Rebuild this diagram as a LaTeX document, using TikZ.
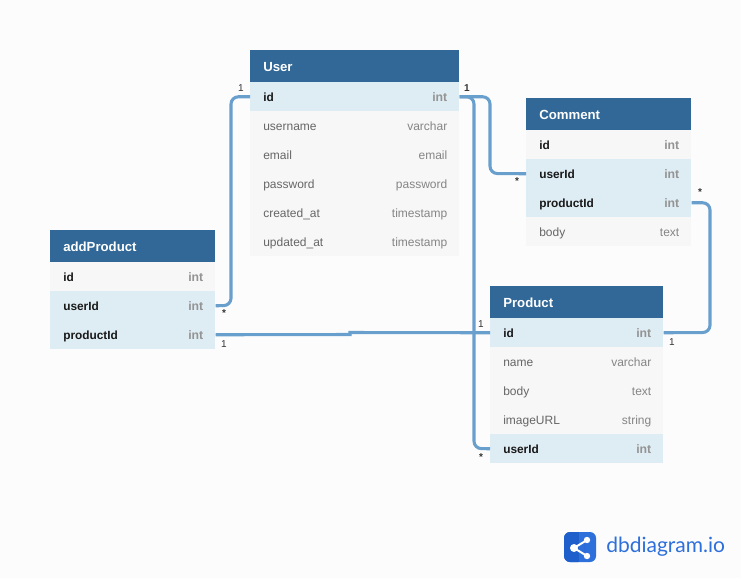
\documentclass[tikz,border=0pt]{standalone}
\usepackage{fontspec}
\setmainfont{Liberation Sans}
\newfontfamily\logofont{Lato}
\usetikzlibrary{positioning}
\definecolor{pagebg}{HTML}{FCFCFC}
\definecolor{headblue}{HTML}{316897}
\definecolor{keyblue}{HTML}{DEECF4}
\definecolor{rowgray}{HTML}{F7F7F7}
\definecolor{linkblue}{HTML}{689FCD}
\definecolor{logoblue}{HTML}{2D6FDB}
\definecolor{logodark}{HTML}{1F5FCB}
\tikzset{
  head/.style={anchor=north west, fill=headblue, minimum height=24pt, inner sep=0pt},
  headtext/.style={anchor=west, inner sep=0pt, text height=7.2pt, text depth=0pt, text=white, font=\fontsize{9.9}{12}\selectfont\bfseries},
  rowbox/.style={anchor=north west, minimum height=21.75pt, inner sep=0pt},
  plainrow/.style={rowbox, fill=rowgray},
  idrow/.style={rowbox, fill=rowgray},
  keyrow/.style={rowbox, fill=keyblue},
  celltext/.style={inner sep=0pt, text height=6.6pt, text depth=0pt},
  plainrow label/.style={celltext, anchor=west, text=black!60, font=\fontsize{9}{11}\selectfont},
  idrow label/.style={celltext, anchor=west, text=black!90, font=\fontsize{8.9}{11}\selectfont\bfseries},
  keyrow label/.style={idrow label},
  plainrow type/.style={celltext, anchor=east, text=black!48, font=\fontsize{9}{11}\selectfont},
  idrow type/.style={celltext, anchor=east, text=black!42, font=\fontsize{9.2}{11}\selectfont\bfseries},
  keyrow type/.style={idrow type},
  rel/.style={draw=linkblue, line width=2.3pt, rounded corners=5.5pt},
  mark label/.style={text=black!80, inner sep=0pt, font=\fontsize{7.5}{9}\selectfont}
}
\begin{document}
\begin{tikzpicture}[x=0.75pt, y=-0.75pt]
    \useasboundingbox[fill=pagebg] (0,0) rectangle (741,578);

    \node[head, minimum width=156.75pt] (user) at (250,50) {};  %User
    \node[headtext] (user-l) at ([xshift=9.75pt]user.west) {User};
    \foreach \key/\lab/\typ/\sty/\y in
    {
      userid/id/int/keyrow/82,
      userusername/username/varchar/plainrow/111,
      useremail/email/email/plainrow/140,
      userpassword/password/password/plainrow/169,
      usercreated/created\_at/timestamp/plainrow/198,
      userupdated/updated\_at/timestamp/plainrow/227
    }
    {
      \node[\sty, minimum width=156.75pt] (\key) at (250,\y) {};
      \node[\sty\space label] (\key-l) at ([xshift=9.75pt]\key.west) {\lab};
      \node[\sty\space type] (\key-t) at ([xshift=-9pt]\key.east) {\typ};
    };

    \node[head, minimum width=123.75pt] (comment) at (526,98) {};  %Comment
    \node[headtext] (comment-l) at ([xshift=9.75pt]comment.west) {Comment};
    \foreach \key/\lab/\typ/\sty/\y in
    {
      commentid/id/int/idrow/130,
      commentuserid/userId/int/keyrow/159,
      commentproductid/productId/int/keyrow/188,
      commentbody/body/text/plainrow/217
    }
    {
      \node[\sty, minimum width=123.75pt] (\key) at (526,\y) {};
      \node[\sty\space label] (\key-l) at ([xshift=9.75pt]\key.west) {\lab};
      \node[\sty\space type] (\key-t) at ([xshift=-9pt]\key.east) {\typ};
    };

    \node[head, minimum width=123.75pt] (addproduct) at (50,230) {};  %addProduct
    \node[headtext] (addproduct-l) at ([xshift=9.75pt]addproduct.west) {addProduct};
    \foreach \key/\lab/\typ/\sty/\y in
    {
      addproductid/id/int/idrow/262,
      addproductuserid/userId/int/keyrow/291,
      addproductproductid/productId/int/keyrow/320
    }
    {
      \node[\sty, minimum width=123.75pt] (\key) at (50,\y) {};
      \node[\sty\space label] (\key-l) at ([xshift=9.75pt]\key.west) {\lab};
      \node[\sty\space type] (\key-t) at ([xshift=-9pt]\key.east) {\typ};
    };

    \node[head, minimum width=129.75pt] (product) at (490,286) {};  %Product
    \node[headtext] (product-l) at ([xshift=9.75pt]product.west) {Product};
    \foreach \key/\lab/\typ/\sty/\y in
    {
      productid/id/int/keyrow/318,
      productname/name/varchar/plainrow/347,
      productbody/body/text/plainrow/376,
      productimage/imageURL/string/plainrow/405,
      productuserid/userId/int/keyrow/434
    }
    {
      \node[\sty, minimum width=129.75pt] (\key) at (490,\y) {};
      \node[\sty\space label] (\key-l) at ([xshift=9.75pt]\key.west) {\lab};
      \node[\sty\space type] (\key-t) at ([xshift=-9pt]\key.east) {\typ};
    };

    \draw[rel] (userid.west) -| (231,305.5) -- (addproductuserid.east);
    \draw[rel] (userid.east) -| (474,448.5) -- (productuserid.west);
    \draw[rel] (userid.east) -| (490,173.5) -- (commentuserid.west);
    \draw[rel] (commentproductid.east) -| (710,332.5) -- (productid.east);
    \draw[rel, rounded corners=0pt] (addproductproductid.east) -- (350,334.5) -- (350,332.5) -- (productid.west);

    \foreach \mk/\txt/\x/\y in
    {
      mka/1/241/88, mkb/\textbf{1}/467/88, mkc/\textbf{*}/517/181, mkd/\textbf{*}/700/192,
      mke/\textbf{*}/224/313, mkf/1/224/344, mkg/1/481/324, mkh/1/672/342, mki/\textbf{*}/481/457
    }
    {
      \node[mark label] (\mk) at (\x,\y) {\txt};
    };

    \fill[logoblue, rounded corners=4.5pt] (564,532) rectangle (596,562);  %Logo
    \fill[logodark, rounded corners=4.5pt] (564,532) rectangle (584,562);
    \fill[logoblue] (579,532) rectangle (584,562);
    \draw[white, line width=1.5pt] (574,548) -- (587,540) (574,548) -- (587,556);
    \fill[white] (574,548) circle (4) (587,540) circle (3.2) (587,556) circle (3.2);
    \node[anchor=west, inner sep=0pt, text=logoblue, font=\logofont\fontsize{15.75}{18}\selectfont] (logotext) at (606,547) {dbdiagram.io};
  \end{tikzpicture}
\end{document}
